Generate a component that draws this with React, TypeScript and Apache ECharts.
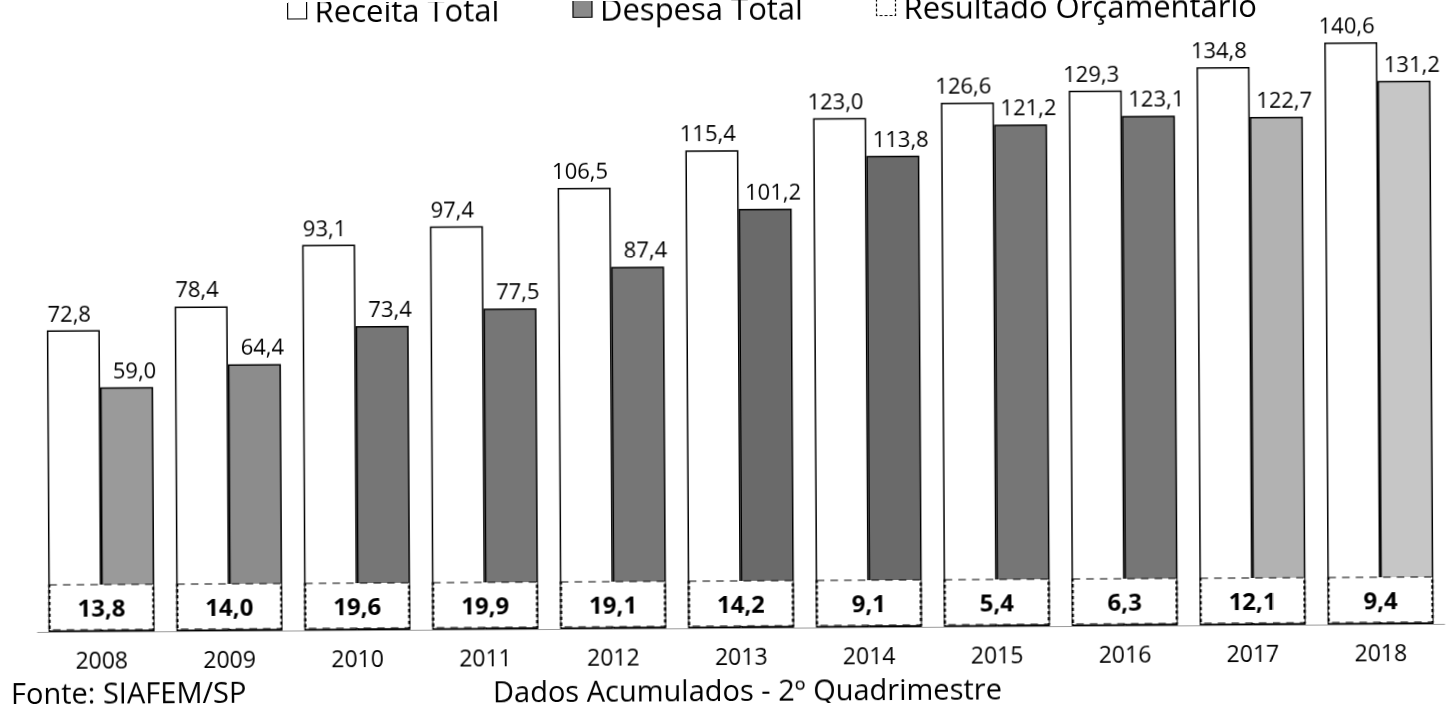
import React, { useEffect, useRef } from "react";
import * as echarts from "echarts";

const years = ["2008", "2009", "2010", "2011", "2012", "2013", "2014", "2015", "2016", "2017", "2018"];
const receita = [72.8, 78.4, 93.1, 97.4, 106.5, 115.4, 123.0, 126.6, 129.3, 134.8, 140.6];
const despesa = [59.0, 64.4, 73.4, 77.5, 87.4, 101.2, 113.8, 121.2, 123.1, 122.7, 131.2];
const resultado = [13.8, 14.0, 19.6, 19.9, 19.1, 14.2, 9.1, 5.4, 6.3, 12.1, 9.4];
const seriesNames = ["Receita Total", "Despesa Total", "Resultado Orçamentário"];

const fmt = (v: number) => v.toFixed(1).replace(".", ",");
const FONT = "'Open Sans', 'Noto Sans', sans-serif";

export default function App() {
  const ref = useRef<HTMLDivElement>(null);
  useEffect(() => {
    if (!ref.current) return;
    const chart = echarts.init(ref.current, undefined, { renderer: "svg" });
    const despesaColor = (i: number) => {
      if (i === 10) return "#c6c6c6";
      if (i === 9) return "#b2b2b2";
      if (i === 0) return "#9a9a9a";
      if (i === 1) return "#8c8c8c";
      if (i === 5 || i === 6) return "#6a6a6a";
      return "#767676";
    };
    chart.setOption({
      animation: false,
      backgroundColor: "#ffffff",
      textStyle: { fontFamily: FONT },
      title: [
        {
          text: "Fonte: SIAFEM/SP",
          left: 9,
          top: 675,
          padding: 0,
          textStyle: { fontSize: 29, fontWeight: "normal", color: "#000", fontFamily: FONT, lineHeight: 26 },
        },
        {
          text: "Dados Acumulados - 2º Quadrimestre",
          left: 491,
          top: 676,
          padding: 0,
          textStyle: { fontSize: 29, fontWeight: "normal", color: "#000", fontFamily: FONT, lineHeight: 26 },
        },
      ],
      legend: {
        left: 289,
        top: -8,
        padding: 0,
        itemWidth: 19,
        itemHeight: 18,
        itemGap: 73,
        icon: "rect",
        textStyle: { fontSize: 31, color: "#000", fontFamily: FONT, padding: [0, 0, 0, 3] },
        data: [
          { name: seriesNames[0], itemStyle: { color: "#fff", borderColor: "#000", borderWidth: 1.2 } },
          { name: seriesNames[1], itemStyle: { color: "#8a8a8a", borderColor: "#000", borderWidth: 1.2 } },
          { name: seriesNames[2], itemStyle: { color: "#fff", borderColor: "#000", borderWidth: 1.2, borderType: [3, 2] } },
        ],
      },
      grid: { left: 36, right: 7, top: 7, bottom: 76, containLabel: false },
      xAxis: {
        type: "category",
        data: years,
        axisLine: { show: true, lineStyle: { color: "#9a9a9a", width: 1 } },
        axisTick: { show: false },
        axisLabel: { fontSize: 23, color: "#000", margin: 18, lineHeight: 20, fontFamily: FONT },
      },
      yAxis: {
        type: "value",
        min: 0,
        max: 150,
        show: false,
        splitLine: { show: false },
      },
      series: [
        {
          name: seriesNames[0],
          type: "bar",
          data: receita,
          barWidth: 53,
          barGap: "0%",
          itemStyle: { color: "#ffffff", borderColor: "#000", borderWidth: 1.5 },
          label: {
            show: true,
            position: "top",
            distance: 7,
            offset: [-4, 0],
            formatter: (p: any) => fmt(p.value),
            fontSize: 22,
            color: "#000",
            fontFamily: FONT,
          },
        },
        {
          name: seriesNames[1],
          type: "bar",
          data: despesa,
          barWidth: 53,
          barGap: "0%",
          itemStyle: {
            color: (p: any) => despesaColor(p.dataIndex),
            borderColor: "#000",
            borderWidth: 1.5,
          },
          label: {
            show: true,
            position: "top",
            distance: 7,
            offset: [8, 0],
            formatter: (p: any) => fmt(p.value),
            fontSize: 22,
            color: "#000",
            fontFamily: FONT,
          },
        },
        {
          name: seriesNames[2],
          type: "scatter",
          z: 5,
          data: resultado.map((v, i) => [i, 5.9, v]),
          symbol: "rect",
          symbolSize: [104, 45],
          itemStyle: { color: "#ffffff", borderColor: "#000", borderWidth: 1.5, borderType: [5, 4], opacity: 1 },
          label: {
            show: true,
            position: "inside",
            formatter: (p: any) => fmt(p.value[2]),
            fontSize: 24,
            fontWeight: "bold",
            color: "#000",
            fontFamily: FONT,
          },
          emphasis: { disabled: true },
        },
      ],
    });
    return () => chart.dispose();
  }, []);
  return (
    <div
      ref={ref}
      style={{
        position: "fixed",
        left: 0,
        top: 0,
        width: 1450,
        height: 704,
        transform: "rotate(-0.33deg)",
        transformOrigin: "725px 352px",
      }}
    />
  );
}
